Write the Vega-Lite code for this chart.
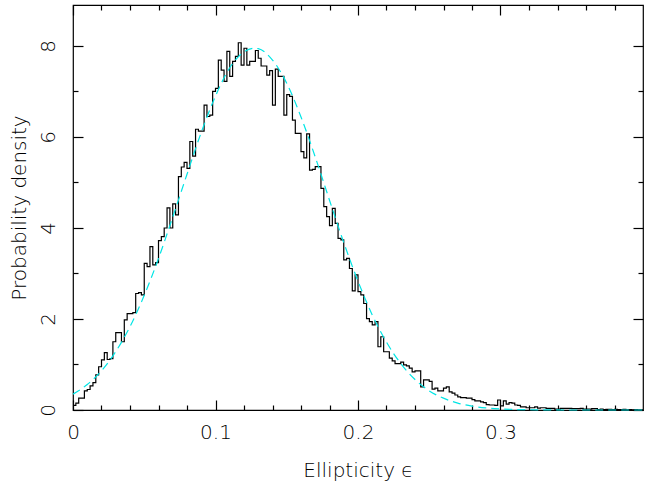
{
  "$schema": "https://vega.github.io/schema/vega-lite/v6.json",
  "width": 570,
  "height": 405,
  "autosize": {"type": "none"},
  "padding": {"left": 73, "top": 5, "right": 3, "bottom": 73},
  "background": "white",
  "config": {
    "view": {"stroke": "black", "strokeWidth": 1.2},
    "axis": {
      "labelFont": "DejaVu Sans", "titleFont": "DejaVu Sans",
      "labelFontSize": 20, "titleFontSize": 20,
      "labelFontWeight": 300, "titleFontWeight": 300,
      "labelColor": "black", "titleColor": "black",
      "tickColor": "black", "tickWidth": 1.2,
      "domain": false, "grid": false
    }
  },
  "datasets": {
    "hist": [
      {"e":0.000,"d":0.10},{"e":0.002,"d":0.15},{"e":0.004,"d":0.26},{"e":0.006,"d":0.26},{"e":0.008,"d":0.42},
      {"e":0.010,"d":0.45},{"e":0.012,"d":0.53},{"e":0.014,"d":0.60},{"e":0.016,"d":0.77},{"e":0.018,"d":0.95},
      {"e":0.020,"d":1.10},{"e":0.022,"d":1.26},{"e":0.024,"d":1.11},{"e":0.026,"d":1.13},{"e":0.028,"d":1.50},
      {"e":0.030,"d":1.70},{"e":0.032,"d":1.70},{"e":0.034,"d":1.50},{"e":0.036,"d":1.98},{"e":0.038,"d":2.12},
      {"e":0.040,"d":2.12},{"e":0.042,"d":2.14},{"e":0.044,"d":2.56},{"e":0.046,"d":2.58},{"e":0.048,"d":2.53},
      {"e":0.050,"d":3.22},{"e":0.052,"d":3.15},{"e":0.054,"d":3.59},{"e":0.056,"d":3.19},{"e":0.058,"d":3.24},
      {"e":0.060,"d":3.72},{"e":0.062,"d":3.81},{"e":0.064,"d":4.00},{"e":0.066,"d":4.44},{"e":0.068,"d":4.00},
      {"e":0.070,"d":4.53},{"e":0.072,"d":4.29},{"e":0.074,"d":5.13},{"e":0.076,"d":5.34},{"e":0.078,"d":5.44},
      {"e":0.080,"d":5.31},{"e":0.082,"d":5.90},{"e":0.084,"d":5.58},{"e":0.086,"d":6.17},{"e":0.088,"d":6.13},
      {"e":0.090,"d":6.13},{"e":0.092,"d":6.70},{"e":0.094,"d":6.45},{"e":0.096,"d":6.48},{"e":0.098,"d":7.00},
      {"e":0.100,"d":7.07},{"e":0.102,"d":7.69},{"e":0.104,"d":7.47},{"e":0.106,"d":7.22},{"e":0.108,"d":7.88},
      {"e":0.110,"d":7.33},{"e":0.112,"d":7.66},{"e":0.114,"d":7.77},{"e":0.116,"d":8.07},{"e":0.118,"d":7.58},
      {"e":0.120,"d":7.95},{"e":0.122,"d":7.58},{"e":0.124,"d":7.66},{"e":0.126,"d":7.66},{"e":0.128,"d":7.90},
      {"e":0.130,"d":7.73},{"e":0.132,"d":7.56},{"e":0.134,"d":7.56},{"e":0.136,"d":7.36},{"e":0.138,"d":7.46},
      {"e":0.140,"d":6.70},{"e":0.142,"d":7.49},{"e":0.144,"d":7.33},{"e":0.146,"d":7.33},{"e":0.148,"d":6.48},
      {"e":0.150,"d":6.93},{"e":0.152,"d":6.89},{"e":0.154,"d":6.37},{"e":0.156,"d":6.08},{"e":0.158,"d":6.08},
      {"e":0.160,"d":5.68},{"e":0.162,"d":5.54},{"e":0.164,"d":6.07},{"e":0.166,"d":5.27},{"e":0.168,"d":5.29},
      {"e":0.170,"d":5.35},{"e":0.172,"d":5.35},{"e":0.174,"d":4.87},{"e":0.176,"d":4.47},{"e":0.178,"d":4.25},
      {"e":0.180,"d":4.05},{"e":0.182,"d":4.43},{"e":0.184,"d":4.10},{"e":0.186,"d":3.77},{"e":0.188,"d":3.74},
      {"e":0.190,"d":3.30},{"e":0.192,"d":3.33},{"e":0.194,"d":3.11},{"e":0.196,"d":2.62},{"e":0.198,"d":2.97},
      {"e":0.200,"d":2.60},{"e":0.202,"d":2.53},{"e":0.204,"d":2.34},{"e":0.206,"d":2.01},{"e":0.208,"d":1.94},
      {"e":0.210,"d":1.87},{"e":0.212,"d":1.94},{"e":0.214,"d":1.39},{"e":0.216,"d":1.61},{"e":0.218,"d":1.28},
      {"e":0.220,"d":1.28},{"e":0.222,"d":1.14},{"e":0.224,"d":1.08},{"e":0.226,"d":1.02},{"e":0.228,"d":1.02},
      {"e":0.230,"d":1.05},{"e":0.232,"d":0.99},{"e":0.234,"d":0.97},{"e":0.236,"d":0.92},{"e":0.238,"d":0.84},
      {"e":0.240,"d":0.86},{"e":0.242,"d":0.86},{"e":0.244,"d":0.51},{"e":0.246,"d":0.66},{"e":0.248,"d":0.66},
      {"e":0.250,"d":0.63},{"e":0.252,"d":0.46},{"e":0.254,"d":0.48},{"e":0.256,"d":0.42},{"e":0.258,"d":0.42},
      {"e":0.260,"d":0.48},{"e":0.262,"d":0.51},{"e":0.264,"d":0.40},{"e":0.266,"d":0.37},{"e":0.268,"d":0.33},
      {"e":0.270,"d":0.29},{"e":0.272,"d":0.27},{"e":0.274,"d":0.27},{"e":0.276,"d":0.26},{"e":0.278,"d":0.26},
      {"e":0.280,"d":0.23},{"e":0.282,"d":0.20},{"e":0.284,"d":0.20},{"e":0.286,"d":0.18},{"e":0.288,"d":0.16},
      {"e":0.290,"d":0.12},{"e":0.292,"d":0.11},{"e":0.294,"d":0.11},{"e":0.296,"d":0.10},{"e":0.298,"d":0.22},
      {"e":0.300,"d":0.09},{"e":0.302,"d":0.20},{"e":0.304,"d":0.13},{"e":0.306,"d":0.16},{"e":0.308,"d":0.15},
      {"e":0.310,"d":0.11},{"e":0.312,"d":0.10},{"e":0.314,"d":0.07},{"e":0.316,"d":0.07},{"e":0.318,"d":0.05},
      {"e":0.320,"d":0.05},{"e":0.322,"d":0.05},{"e":0.324,"d":0.07},{"e":0.326,"d":0.04},{"e":0.328,"d":0.05},
      {"e":0.330,"d":0.05},{"e":0.332,"d":0.035},{"e":0.334,"d":0.035},{"e":0.336,"d":0.035},{"e":0.338,"d":0.02},
      {"e":0.340,"d":0.02},{"e":0.342,"d":0.035},{"e":0.344,"d":0.035},{"e":0.346,"d":0.035},{"e":0.348,"d":0.035},
      {"e":0.350,"d":0.03},{"e":0.352,"d":0.03},{"e":0.354,"d":0.03},{"e":0.356,"d":0.035},{"e":0.358,"d":0.02},
      {"e":0.360,"d":0.02},{"e":0.362,"d":0.02},{"e":0.364,"d":0.03},{"e":0.366,"d":0.03},{"e":0.368,"d":0.01},
      {"e":0.370,"d":0.02},{"e":0.372,"d":0.01},{"e":0.374,"d":0.015},{"e":0.376,"d":0.015},{"e":0.378,"d":0.01},
      {"e":0.380,"d":0.015},{"e":0.382,"d":0.01},{"e":0.384,"d":0.01},{"e":0.386,"d":0.015},{"e":0.388,"d":0.005},
      {"e":0.390,"d":0.01},{"e":0.392,"d":0.005},{"e":0.394,"d":0.01},{"e":0.396,"d":0.005},{"e":0.398,"d":0.005},
      {"e":0.400,"d":0.005}
    ],
    "curve": [
      {"e":0.00,"f":0.349},{"e":0.01,"f":0.560},{"e":0.02,"f":0.864},{"e":0.03,"f":1.284},{"e":0.04,"f":1.833},
      {"e":0.05,"f":2.52},{"e":0.06,"f":3.33},{"e":0.07,"f":4.24},{"e":0.08,"f":5.18},{"e":0.09,"f":6.10},
      {"e":0.10,"f":6.90},{"e":0.11,"f":7.52},{"e":0.12,"f":7.87},{"e":0.127,"f":7.95},{"e":0.13,"f":7.94},
      {"e":0.14,"f":7.69},{"e":0.15,"f":7.18},{"e":0.16,"f":6.44},{"e":0.17,"f":5.56},{"e":0.18,"f":4.61},
      {"e":0.19,"f":3.68},{"e":0.20,"f":2.83},{"e":0.21,"f":2.09},{"e":0.22,"f":1.49},{"e":0.23,"f":1.02},
      {"e":0.24,"f":0.67},{"e":0.25,"f":0.42},{"e":0.26,"f":0.26},{"e":0.27,"f":0.151},{"e":0.28,"f":0.085},
      {"e":0.29,"f":0.046},{"e":0.30,"f":0.024},{"e":0.32,"f":0.006},{"e":0.35,"f":0.0},{"e":0.40,"f":0.0}
    ]
  },
  "layer": [
    {
      "data": {"name": "hist"},
      "mark": {"type": "line", "interpolate": "step-after", "color": "black", "strokeWidth": 1.2},
      "encoding": {
        "x": {
          "field": "e", "type": "quantitative",
          "scale": {"domain": [0, 0.4], "nice": false, "zero": false},
          "axis": {
            "orient": "bottom",
            "values": [0,0.02,0.04,0.06,0.08,0.1,0.12,0.14,0.16,0.18,0.2,0.22,0.24,0.26,0.28,0.3,0.32,0.34,0.36,0.38],
            "tickSize": {"condition": {"test": "round(datum.value*50) % 5 == 0", "value": -10}, "value": -5},
            "labelExpr": "round(datum.value*50) % 5 == 0 ? format(datum.value, '.1~f') : ''",
            "labelPadding": 22, "labelBaseline": "top", "labelAlign": "center",
            "labelFlush": false, "labelOverlap": false,
            "title": "Ellipticity ϵ", "titlePadding": 13
          }
        },
        "y": {
          "field": "d", "type": "quantitative",
          "scale": {"domain": [0, 8.9], "nice": false},
          "axis": {
            "orient": "left",
            "values": [0,1,2,3,4,5,6,7,8],
            "tickSize": {"condition": {"test": "datum.value % 2 == 0", "value": -10}, "value": -5},
            "labelExpr": "datum.value % 2 == 0 ? datum.label : ''",
            "labelAngle": -90, "labelAlign": "center", "labelBaseline": "alphabetic",
            "labelPadding": 29, "labelFlush": false, "labelOverlap": false,
            "title": "Probability density", "titlePadding": 4
          }
        }
      }
    },
    {
      "data": {"name": "curve"},
      "mark": {"type": "line", "interpolate": "monotone", "color": "#00e5e5", "strokeDash": [8, 5], "strokeWidth": 1.2},
      "encoding": {
        "x": {
          "field": "e", "type": "quantitative",
          "scale": {"domain": [0, 0.4], "nice": false, "zero": false},
          "axis": {
            "orient": "top",
            "values": [0,0.02,0.04,0.06,0.08,0.1,0.12,0.14,0.16,0.18,0.2,0.22,0.24,0.26,0.28,0.3,0.32,0.34,0.36,0.38],
            "tickSize": {"condition": {"test": "round(datum.value*50) % 5 == 0", "value": -10}, "value": -5},
            "labels": false, "title": null
          }
        },
        "y": {
          "field": "f", "type": "quantitative",
          "scale": {"domain": [0, 8.9], "nice": false},
          "axis": {
            "orient": "right",
            "values": [0,1,2,3,4,5,6,7,8],
            "tickSize": {"condition": {"test": "datum.value % 2 == 0", "value": -10}, "value": -5},
            "labels": false, "title": null
          }
        }
      }
    }
  ],
  "resolve": {"axis": {"x": "independent", "y": "independent"}}
}
